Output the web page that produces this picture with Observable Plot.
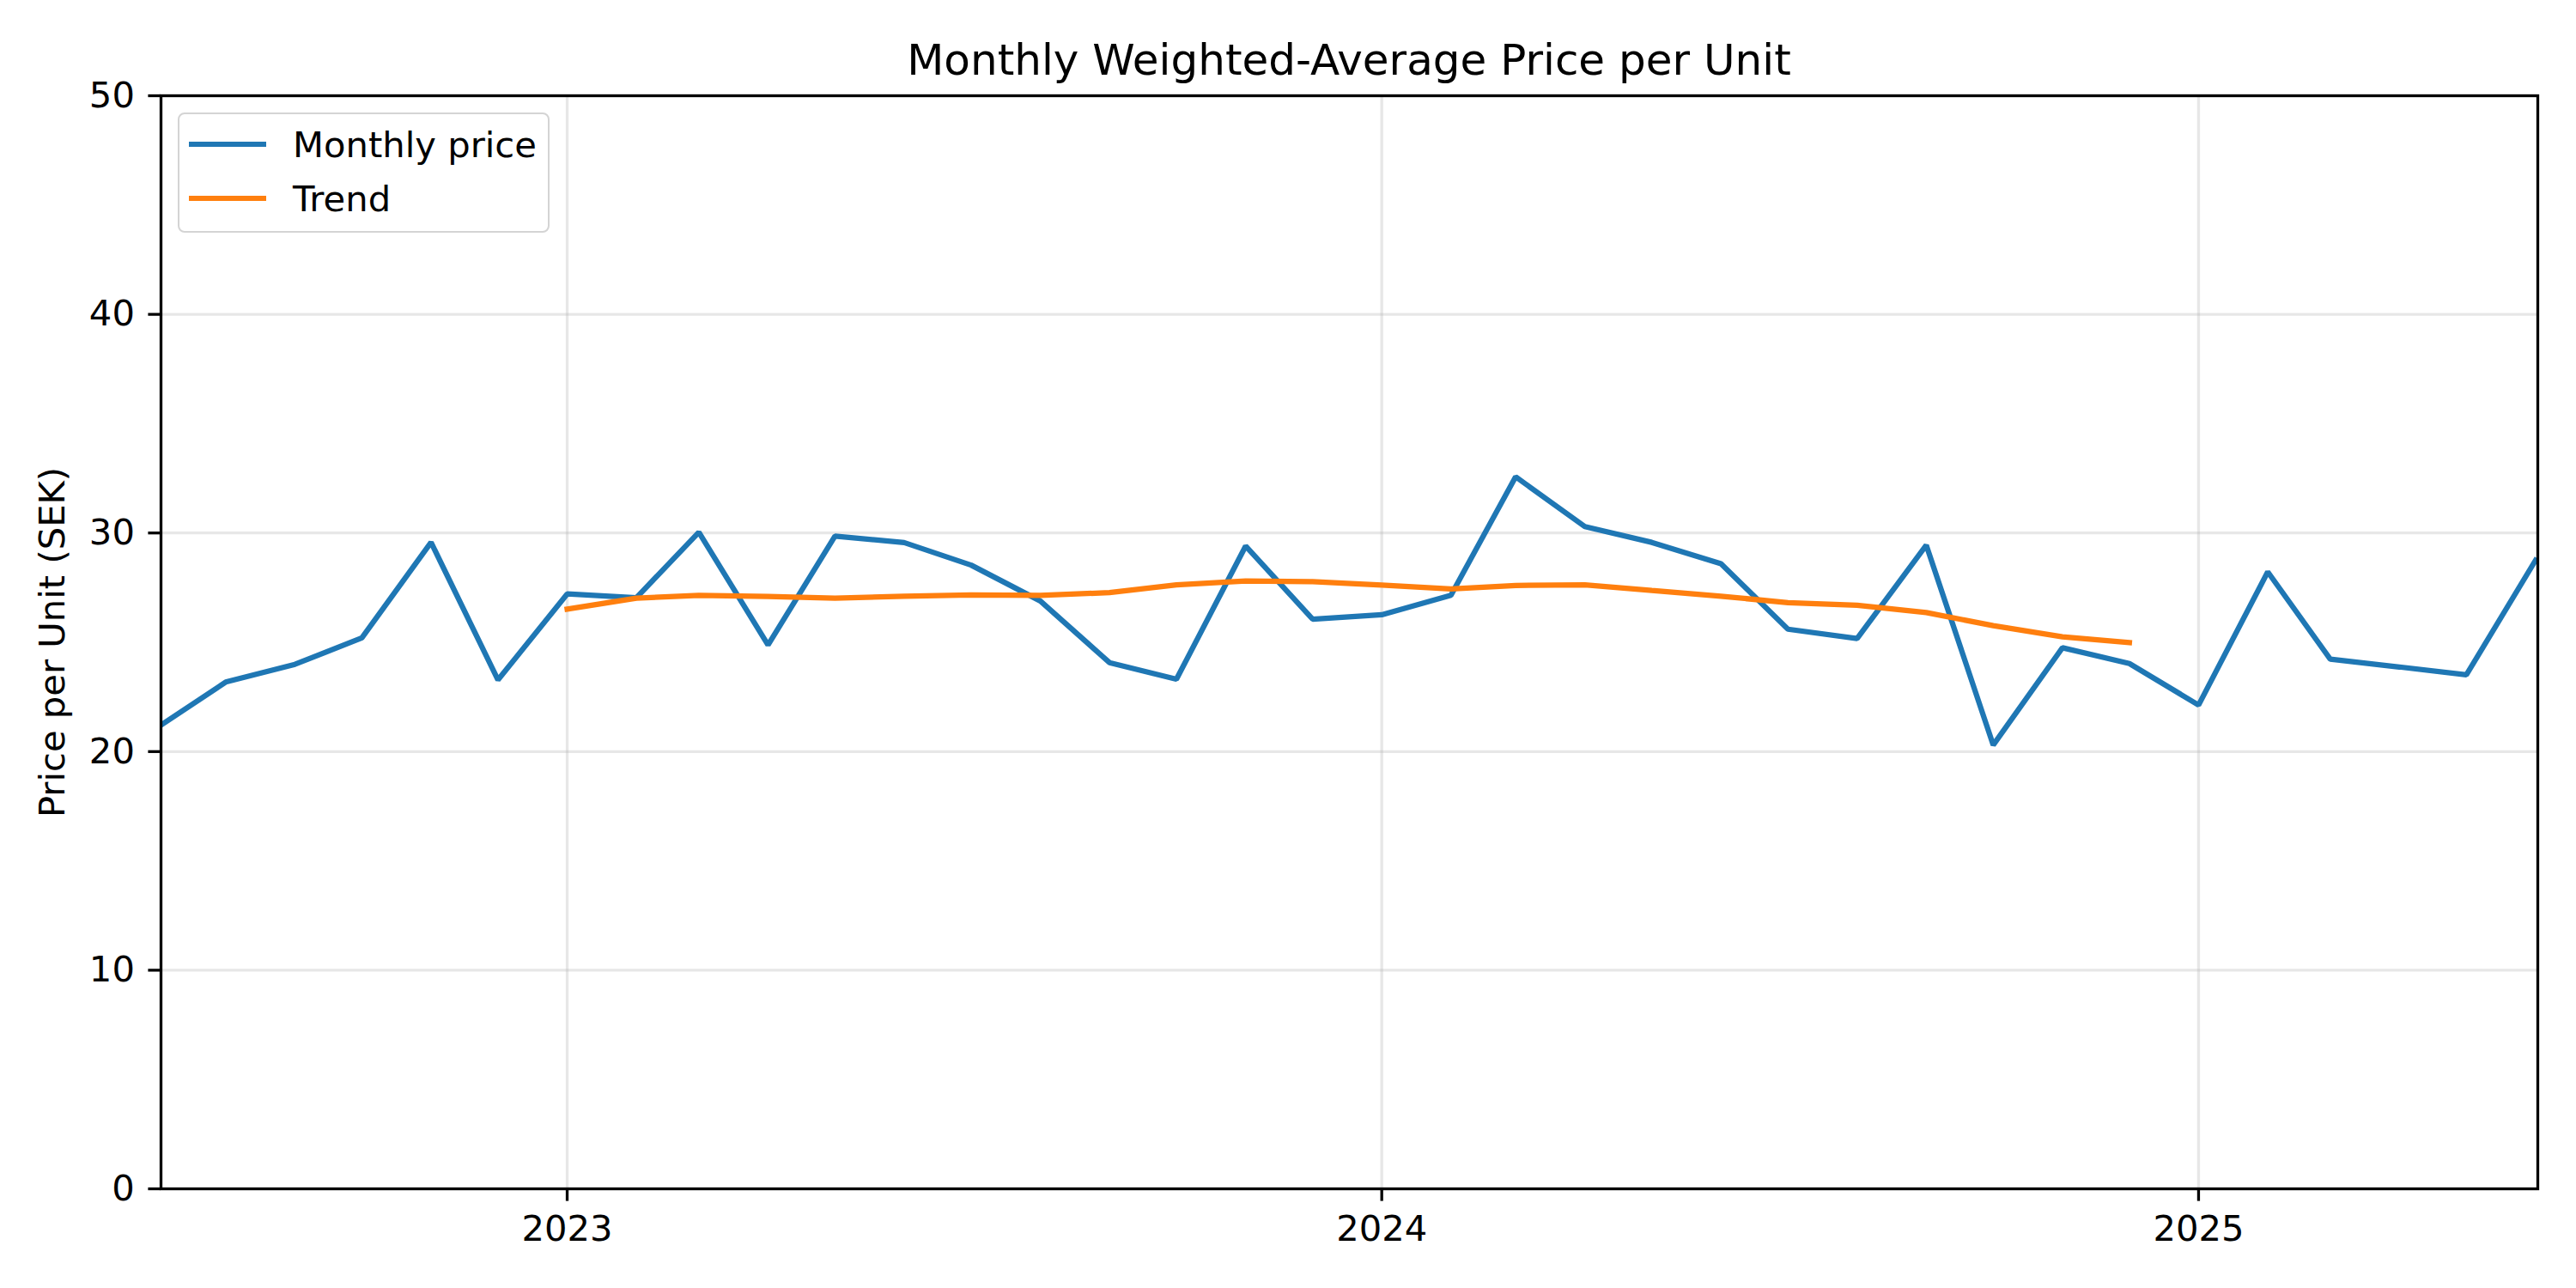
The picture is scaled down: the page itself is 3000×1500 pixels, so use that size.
<!DOCTYPE html>
<html>
<head>
<meta charset="utf-8">
<script src="https://cdn.jsdelivr.net/npm/d3@7"></script>
<script src="https://cdn.jsdelivr.net/npm/@observablehq/plot@0.6"></script>
<style>
  html, body { margin: 0; padding: 0; background: white; }
  #wrap { position: relative; width: 3000px; height: 1500px; font-family: "DejaVu Sans", sans-serif; }
  #chart { position: absolute; left: 0; top: 0; }
  #title { position: absolute; left: 187px; width: 2768px; top: 45px; text-align: center; font-size: 50px; line-height: 50px; color: black; white-space: nowrap; }
  #legend { position: absolute; left: 207px; top: 131px; width: 433px; height: 140px; border: 2.6px solid #d4d4d4; border-radius: 8px; background: rgba(255,255,255,0.8); box-sizing: border-box; }
  .item { position: absolute; left: 11px; height: 50px; display: flex; align-items: center; font-size: 41.7px; color: black; white-space: nowrap; }
  .sw { width: 90px; height: 6.25px; margin-right: 31px; }
</style>
</head>
<body>
<div id="wrap">
  <div id="chart"></div>
  <div id="title">Monthly Weighted-Average Price per Unit</div>
  <div id="legend"></div>
</div>
<script>
const months = ["2022-07","2022-08","2022-09","2022-10","2022-11","2022-12",
  "2023-01","2023-02","2023-03","2023-04","2023-05","2023-06","2023-07","2023-08","2023-09","2023-10","2023-11","2023-12",
  "2024-01","2024-02","2024-03","2024-04","2024-05","2024-06","2024-07","2024-08","2024-09","2024-10","2024-11","2024-12",
  "2025-01","2025-02","2025-03","2025-04","2025-05","2025-06"];
const price = [21.08, 23.18, 23.99, 25.2, 29.57, 23.28,
  27.21, 27.04, 30.03, 24.88, 29.86, 29.56, 28.53, 26.89, 24.07, 23.31, 29.40, 26.06,
  26.26, 27.15, 32.57, 30.29, 29.57, 28.59, 25.6, 25.17, 29.44, 20.30, 24.75, 24.03,
  22.13, 28.22, 24.23, 23.87, 23.51, 28.75];
const trendMonths = months.slice(6, 30);
const trend = [26.52, 27.02, 27.15, 27.1, 27.02, 27.11, 27.17, 27.15, 27.27, 27.63, 27.80, 27.77,
  27.62, 27.44, 27.6, 27.63, 27.37, 27.11, 26.81, 26.69, 26.36, 25.76, 25.25, 24.99];
const yTicks = [0, 10, 20, 30, 40, 50];
const xTickYears = ["2023-01", "2024-01", "2025-01"];
const xDomain = ["2022-07-03", "2025-06-02"];
const seriesNames = ["Monthly price", "Trend"];
const seriesColors = ["#1f77b4", "#ff7f0e"];

const parse = d3.utcParse("%Y-%m");
const parseDay = d3.utcParse("%Y-%m-%d");
const priceData = months.map((m, i) => ({date: parse(m), value: price[i]}));
const trendData = trendMonths.map((m, i) => ({date: parse(m), value: trend[i]}));
const xTicks = xTickYears.map(parse);

const chart = Plot.plot({
  width: 3000,
  height: 1500,
  marginTop: 111,
  marginBottom: 116,
  marginLeft: 187,
  marginRight: 45,
  style: {fontFamily: "DejaVu Sans", fontSize: "41.7px", background: "white", color: "black"},
  x: {type: "utc", domain: xDomain.map(parseDay)},
  y: {domain: [0, 50]},
  marks: [
    Plot.gridX(xTicks, {stroke: "#b0b0b0", strokeOpacity: 0.3, strokeWidth: 3.3}),
    Plot.gridY(yTicks, {stroke: "#b0b0b0", strokeOpacity: 0.3, strokeWidth: 3.3}),
    Plot.lineY(priceData, {x: "date", y: "value", stroke: seriesColors[0], strokeWidth: 6.25, strokeLinejoin: "miter", strokeLinecap: "square", clip: true}),
    Plot.lineY(trendData, {x: "date", y: "value", stroke: seriesColors[1], strokeWidth: 6.25, strokeLinejoin: "miter", strokeLinecap: "square", clip: true}),
    Plot.axisX(xTicks, {tickFormat: d3.utcFormat("%Y"), tickSize: 14.6, tickPadding: 16, strokeWidth: 3.3, label: null, fontSize: 41.7}),
    Plot.axisY(yTicks, {tickSize: 14.6, tickPadding: 16, strokeWidth: 3.3, label: "Price per Unit (SEK)", labelAnchor: "center", labelArrow: "none", labelOffset: 142, fontSize: 41.7}),
    Plot.frame({stroke: "black", strokeWidth: 3.3})
  ]
});
document.getElementById("chart").appendChild(chart);

const legend = document.getElementById("legend");
seriesNames.forEach((name, i) => {
  const item = document.createElement("div");
  item.className = "item";
  item.style.top = (i === 0 ? 10 : 73) + "px";
  const sw = document.createElement("div");
  sw.className = "sw";
  sw.style.background = seriesColors[i];
  const label = document.createElement("span");
  label.textContent = name;
  item.appendChild(sw);
  item.appendChild(label);
  legend.appendChild(item);
});
</script>
</body>
</html>
